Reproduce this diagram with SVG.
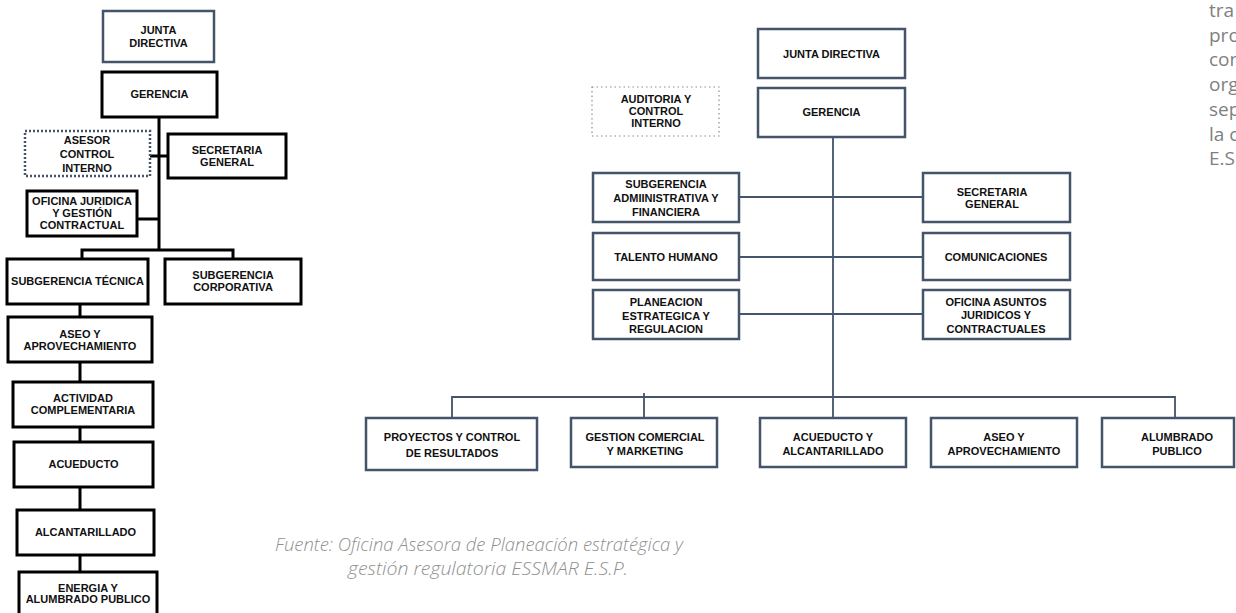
<svg xmlns="http://www.w3.org/2000/svg" width="1236" height="613" viewBox="0 0 1236 613">
<style>
text{font-family:"Liberation Sans",Arial,sans-serif;font-weight:bold;font-size:11px;fill:#111;text-anchor:middle}
.lb{fill:#fff;stroke:#000;stroke-width:3}
.lj{fill:#fff;stroke:#44546a;stroke-width:2.5}
.ld{fill:#fff;stroke:#44546a;stroke-width:2.5;stroke-dasharray:2 2}
.rb{fill:#fff;stroke:#44546a;stroke-width:2.5}
.rd{fill:#fff;stroke:#8c8c8c;stroke-width:1.2;stroke-dasharray:1.5 3}
.lc{stroke:#000;stroke-width:3;fill:none}
.rc{stroke:#44546a;stroke-width:1.8;fill:none}
.side{font-family:"Open Sans","Liberation Sans",sans-serif;font-weight:normal;font-size:19px;fill:#7f7f7f;text-anchor:start}
.cap{font-family:"Open Sans","Liberation Sans",sans-serif;font-weight:300;font-style:italic;font-size:18px;fill:#8f8f8f;text-anchor:start}
</style>
<rect width="1236" height="613" fill="#fff"/>
<g id="connectors">
<path class="lc" d="M159 117V250M150 156H168M137 219H159M82 259V250H233V259M80 304V317M80 362V382M80 427V442M80 487V510M80 555V572"/>
<path class="rc" d="M833 137V418M739 197H923M739 257H923M739 314H923M452 418V397H1175V418M644 393V418"/>
</g>
<g id="l-junta"><rect class="lj" x="103" y="11" width="111" height="51"/><text x="158.5" y="34">JUNTA</text><text x="158.5" y="47">DIRECTIVA</text></g>
<g id="l-gerencia"><rect class="lb" x="102" y="72" width="115" height="45"/><text x="159.5" y="98">GERENCIA</text></g>
<g id="l-asesor"><rect class="ld" x="25" y="131" width="125" height="45"/><text x="87" y="144">ASESOR</text><text x="87" y="158">CONTROL</text><text x="87" y="172">INTERNO</text></g>
<g id="l-secretaria"><rect class="lb" x="168" y="134" width="118" height="44"/><text x="227" y="154">SECRETARIA</text><text x="227" y="166">GENERAL</text></g>
<g id="l-juridica"><rect class="lb" x="27" y="191" width="110" height="45"/><text x="82" y="205">OFICINA JURIDICA</text><text x="82" y="217">Y GESTIÓN</text><text x="82" y="229">CONTRACTUAL</text></g>
<g id="l-tecnica"><rect class="lb" x="7" y="259" width="141" height="45"/><text x="77.5" y="285">SUBGERENCIA TÉCNICA</text></g>
<g id="l-corporativa"><rect class="lb" x="165" y="259" width="136" height="45"/><text x="233" y="279">SUBGERENCIA</text><text x="233" y="291">CORPORATIVA</text></g>
<g id="l-aseo"><rect class="lb" x="8" y="317" width="144" height="45"/><text x="80" y="338">ASEO Y</text><text x="80" y="350">APROVECHAMIENTO</text></g>
<g id="l-actividad"><rect class="lb" x="13" y="382" width="140" height="45"/><text x="83" y="402">ACTIVIDAD</text><text x="83" y="414">COMPLEMENTARIA</text></g>
<g id="l-acueducto"><rect class="lb" x="14" y="442" width="139" height="45"/><text x="83.5" y="468">ACUEDUCTO</text></g>
<g id="l-alcantarillado"><rect class="lb" x="17" y="510" width="137" height="45"/><text x="85.5" y="536">ALCANTARILLADO</text></g>
<g id="l-energia"><rect class="lb" x="19" y="572" width="138" height="48"/><text x="88" y="592">ENERGIA Y</text><text x="88" y="603">ALUMBRADO PUBLICO</text></g>

<g id="r-junta"><rect class="rb" x="758" y="29" width="147" height="49"/><text x="831.5" y="58">JUNTA DIRECTIVA</text></g>
<g id="r-gerencia"><rect class="rb" x="758" y="88" width="147" height="49"/><text x="831.5" y="116">GERENCIA</text></g>
<g id="r-auditoria"><rect class="rd" x="592" y="87" width="127" height="49"/><text x="656" y="103">AUDITORIA Y</text><text x="656" y="115">CONTROL</text><text x="656" y="127">INTERNO</text></g>
<g id="r-subadmin"><rect class="rb" x="593" y="173" width="146" height="49"/><text x="666" y="188">SUBGERENCIA</text><text x="666" y="202">ADMIINISTRATIVA Y</text><text x="666" y="216">FINANCIERA</text></g>
<g id="r-secretaria"><rect class="rb" x="923" y="173" width="147" height="49"/><text x="992" y="196">SECRETARIA</text><text x="992" y="208">GENERAL</text></g>
<g id="r-talento"><rect class="rb" x="593" y="233" width="146" height="47"/><text x="666" y="261">TALENTO HUMANO</text></g>
<g id="r-comunicaciones"><rect class="rb" x="923" y="233" width="147" height="47"/><text x="996" y="261">COMUNICACIONES</text></g>
<g id="r-planeacion"><rect class="rb" x="593" y="290" width="146" height="49"/><text x="666" y="306">PLANEACION</text><text x="666" y="320">ESTRATEGICA Y</text><text x="666" y="333">REGULACION</text></g>
<g id="r-asuntos"><rect class="rb" x="923" y="290" width="147" height="49"/><text x="996" y="306">OFICINA ASUNTOS</text><text x="996" y="319">JURIDICOS Y</text><text x="996" y="333">CONTRACTUALES</text></g>
<g id="r-proyectos"><rect class="rb" x="366" y="418" width="171" height="52"/><text x="452" y="441">PROYECTOS Y CONTROL</text><text x="452" y="457">DE RESULTADOS</text></g>
<g id="r-gestion"><rect class="rb" x="571" y="418" width="146" height="49"/><text x="645" y="441">GESTION COMERCIAL</text><text x="645" y="455">Y MARKETING</text></g>
<g id="r-acueducto"><rect class="rb" x="760" y="418" width="146" height="49"/><text x="833" y="441">ACUEDUCTO Y</text><text x="833" y="455">ALCANTARILLADO</text></g>
<g id="r-aseo"><rect class="rb" x="931" y="418" width="146" height="49"/><text x="1004" y="441">ASEO Y</text><text x="1004" y="455">APROVECHAMIENTO</text></g>
<g id="r-alumbrado"><rect class="rb" x="1102" y="418" width="132" height="49"/><text x="1177" y="441">ALUMBRADO</text><text x="1177" y="455">PUBLICO</text></g>

<g id="side-text">
<text class="side" x="1209" y="17">tra</text>
<text class="side" x="1209" y="42">pro</text>
<text class="side" x="1209" y="66">con</text>
<text class="side" x="1209" y="91">org</text>
<text class="side" x="1209" y="116">sep</text>
<text class="side" x="1209" y="141">la c</text>
<text class="side" x="1209" y="165">E.S</text>
</g>
<g id="caption">
<text class="cap" x="275" y="551" textLength="408" lengthAdjust="spacingAndGlyphs">Fuente: Oficina Asesora de Planeación estratégica y</text>
<text class="cap" x="348" y="575" textLength="280" lengthAdjust="spacingAndGlyphs">gestión regulatoria ESSMAR E.S.P.</text>
</g>
</svg>
